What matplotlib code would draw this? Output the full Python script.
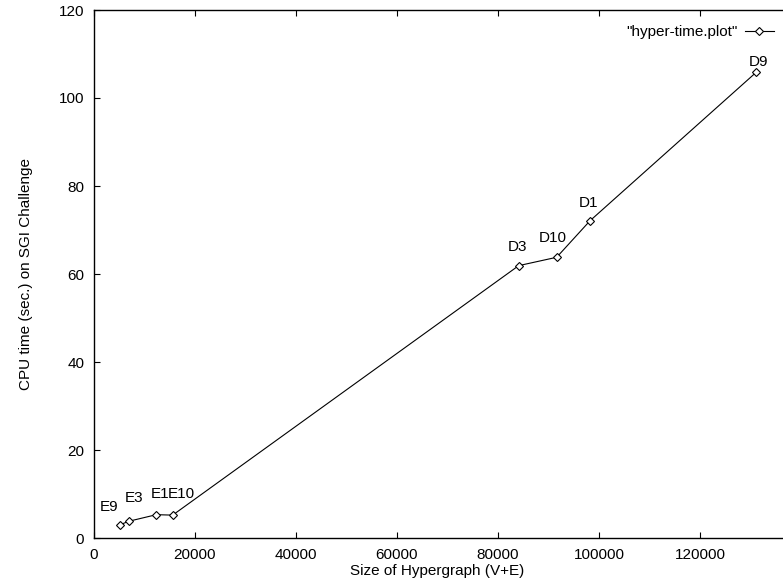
import matplotlib
matplotlib.use("Agg")
import matplotlib.pyplot as plt

# data
names = ["E9", "E3", "E1", "E10", "D3", "D10", "D1", "D9"]
size_ve = [5150, 6870, 12340, 15580, 84100, 91620, 98220, 131090]
cpu_time = [3.0, 3.8, 5.3, 5.2, 61.9, 63.8, 72.1, 105.8]

# label offsets (pixels) from each point: left edge of text, vertical centre
label_dx = [-20, -4, -6, -5, -11, -18, -11, -7]
label_dy = [18, 23, 21, 21, 19, 19, 18, 10]

plt.rcParams['font.family'] = ['Liberation Sans', 'DejaVu Sans']
plt.rcParams['font.size'] = 11

W, H = 783, 582
fig = plt.figure(figsize=(W / 100, H / 100), dpi=100)
# plot area runs past the right edge of the picture, like the original crop
ax = fig.add_axes([94 / W, (H - 538) / H, (801 - 94) / W, (538 - 10) / H])

ax.plot(size_ve, cpu_time, color='black', linewidth=0.8, marker='D',
        markersize=3.6, markerfacecolor='white', markeredgecolor='black',
        markeredgewidth=0.8, label='"hyper-time.plot"')

for n, x, y, dx, dy in zip(names, size_ve, cpu_time, label_dx, label_dy):
    ax.annotate(n, (x, y), xytext=(dx, dy), textcoords='offset pixels',
                ha='left', va='center', fontsize=11)

ax.set_xlim(0, 140000)
ax.set_ylim(0, 120)
ax.set_xticks(range(0, 120001, 20000))
ax.set_yticks(range(0, 121, 20))
ax.tick_params(direction='in', top=True, right=True, length=4.3, width=0.8,
               pad=7, labelsize=11)
for s in ax.spines.values():
    s.set_linewidth(1.0)

ax.set_xlabel('Size of Hypergraph (V+E)', fontsize=11)
ax.set_ylabel('CPU time (sec.) on SGI Challenge', fontsize=11)
ax.xaxis.set_label_coords((437 - 94) / (801 - 94), -33 / (538 - 10))
ax.yaxis.set_label_coords(-(94 - 26) / (801 - 94), 0.5)
ax.xaxis.label.set_va('center')
ax.yaxis.label.set_va('center')

ax.legend(loc='upper right', bbox_to_anchor=(774 / W, 1 - 25 / H),
          bbox_transform=fig.transFigure, frameon=False, markerfirst=False,
          numpoints=1, handlelength=1.9, handletextpad=0.45,
          borderpad=0, borderaxespad=0, fontsize=11)

fig.savefig('out.png', dpi=100)
